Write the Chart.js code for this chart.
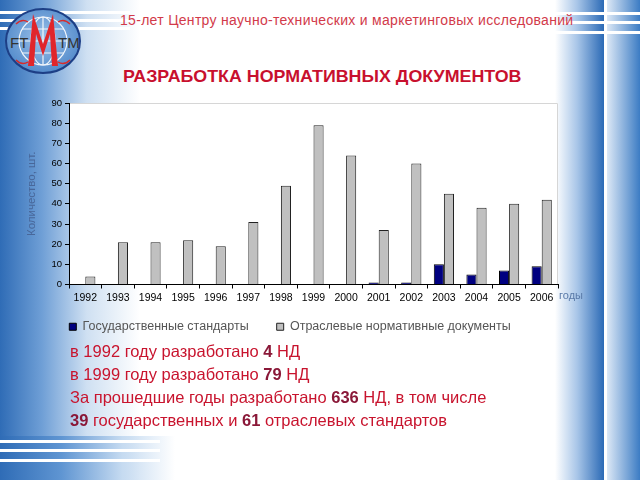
<!DOCTYPE html>
<html>
<head>
<meta charset="utf-8">
<script src="https://cdn.jsdelivr.net/npm/chart.js@4.4.0/dist/chart.umd.min.js"></script>
<style>
  html, body { margin: 0; padding: 0; }
  body {
    width: 640px; height: 480px; overflow: hidden; position: relative;
    font-family: "Liberation Sans", Arial, sans-serif;
    background: #fff;
  }
  .bg-left {
    position: absolute; left: 0; top: 0; width: 140px; height: 480px;
    background: linear-gradient(to right, #2f6cb6 0%, #6f9fd6 30%, #cfe0f2 62%, rgba(255,255,255,0) 100%);
  }
  .bg-bottom {
    position: absolute; left: 0; top: 436px; width: 175px; height: 44px;
    background: linear-gradient(to right, #2f6cb6 0%, #5f95d2 35%, #c6dbf1 70%, rgba(255,255,255,0) 100%);
  }
  .bg-right1 {
    position: absolute; left: 555px; top: 0; width: 49px; height: 480px;
    background: linear-gradient(to right, rgba(255,255,255,0) 0%, #a9c6e8 45%, #2b6ab6 100%);
  }
  .bg-right2 {
    position: absolute; left: 607px; top: 0; width: 33px; height: 480px;
    background: linear-gradient(to right, #dce8f6 0%, #3c7cc4 100%);
  }
  .stripe { position: absolute; height: 3px; background: #fff; }
  .logo { position: absolute; left: 4px; top: 4px; }
  .header {
    position: absolute; left: 120px; top: 12px; font-size: 14px; color: #d23a4a;
    letter-spacing: 0.3px; white-space: nowrap;
  }
  .title {
    position: absolute; left: 123px; top: 67px; font-size: 16.5px; font-weight: bold; color: #c8102e;
    white-space: nowrap; transform-origin: left top; transform: scaleX(1.08);
  }
  #wrap { position: absolute; left: 0; top: 90px; width: 590px; height: 272px; }
  .notes { position: absolute; left: 70px; top: 340px; color: #c8142e; font-size: 16.5px; line-height: 23px; white-space: nowrap; }
  .notes b { color: #8a1838; }
</style>
</head>
<body>
<div class="bg-left"></div>
<div class="bg-bottom"></div>
<div class="bg-right1"></div>
<div class="bg-right2"></div>
<div class="stripe" style="left:0;top:11px;width:130px"></div>
<div class="stripe" style="left:0;top:19px;width:130px"></div>
<div class="stripe" style="left:0;top:27px;width:130px"></div>
<div class="stripe" style="left:540px;top:12px;width:100px"></div>
<div class="stripe" style="left:540px;top:21px;width:100px"></div>
<div class="stripe" style="left:540px;top:31px;width:100px"></div>
<div class="stripe" style="left:0;top:440px;width:160px"></div>
<div class="stripe" style="left:0;top:449px;width:160px"></div>
<div class="stripe" style="left:0;top:459px;width:160px"></div>

<svg class="logo" width="80" height="72" viewBox="0 0 80 72">
  <defs>
    <radialGradient id="lg" cx="0.5" cy="0.45" r="0.6">
      <stop offset="0" stop-color="#9cc2ea"/>
      <stop offset="1" stop-color="#4d86c8"/>
    </radialGradient>
  </defs>
  <ellipse cx="39" cy="37" rx="37" ry="32" fill="url(#lg)" stroke="#1d3f86" stroke-width="2"/>
  <g stroke="#fff" stroke-width="1.2" fill="none" opacity="0.9">
    <circle cx="39" cy="37" r="24"/>
    <ellipse cx="39" cy="37" rx="12" ry="24"/>
    <line x1="15" y1="37" x2="63" y2="37"/>
    <line x1="18" y1="25" x2="60" y2="25"/>
    <line x1="18" y1="49" x2="60" y2="49"/>
    <line x1="39" y1="13" x2="39" y2="61"/>
  </g>
  <text x="6" y="44" font-size="15" fill="#333" font-family="Liberation Sans">FT</text>
  <text x="54" y="44" font-size="15" fill="#333" font-family="Liberation Sans">TM</text>
  <path d="M24 62 L29 10 L39 40 L49 10 L54 62 L48 62 L46 30 L39 52 L32 30 L30 62 Z" fill="#e0262b"/>
  <path d="M12 20 q6 -6 12 -2 M66 20 q-6 -6 -12 -2 M12 56 q6 6 12 2 M66 56 q-6 6 -12 2" stroke="#d82b2b" stroke-width="1.5" fill="none"/>
</svg>

<div class="header">15-лет Центру научно-технических и маркетинговых исследований</div>
<div class="title">РАЗРАБОТКА НОРМАТИВНЫХ ДОКУМЕНТОВ</div>

<div id="wrap"><canvas id="chart"></canvas></div>

<div class="notes">
  <div>в 1992 году разработано <b>4</b> НД</div>
  <div>в 1999 году разработано <b>79</b> НД</div>
  <div>За прошедшие годы разработано <b>636</b> НД, в том числе</div>
  <div><b>39</b> государственных и <b>61</b> отраслевых стандартов</div>
</div>

<script>
// данные
const years = ["1992", "1993", "1994", "1995", "1996", "1997", "1998", "1999", "2000", "2001", "2002", "2003", "2004", "2005", "2006"];
const gosStandarty = [null, null, null, null, null, null, null, null, null, 1, 1, 10, 5, 7, 9];
const otraslevye = [4, 21, 21, 22, 19, 31, 49, 79, 64, 27, 60, 45, 38, 40, 42];
const yTicks = [0, 10, 20, 30, 40, 50, 60, 70, 80, 90];

const FONT = "'Liberation Sans', Arial";
const LEGEND_SHIFT = 19; // легенда ближе к оси, но с широким шагом между пунктами

const plotBox = {
    id: "plotBox",
    afterLayout(c) {
        if (c.legend) {
            c.legend.top -= LEGEND_SHIFT;
            c.legend.bottom -= LEGEND_SHIFT;
        }
    },
    beforeDraw(c) {
        const a = c.chartArea, x = c.ctx;
        x.save();
        x.fillStyle = "#fff";
        x.fillRect(a.left, a.top, a.right - a.left, a.bottom - a.top);
        x.strokeStyle = "#d6d6d6";
        x.lineWidth = 1;
        x.beginPath();
        x.moveTo(a.left, a.top + 0.5);
        x.lineTo(a.right - 0.5, a.top + 0.5);
        x.lineTo(a.right - 0.5, a.bottom);
        x.stroke();
        x.restore();
    },
    afterDraw(c) {
        // подпись "годы" справа от оси X
        const a = c.chartArea, x = c.ctx;
        x.save();
        x.fillStyle = "#5a7aa8";
        x.font = "11px " + FONT;
        x.textBaseline = "middle";
        x.fillText("годы", a.right + 1, a.bottom + 11);
        x.restore();
    },
};

new Chart(document.getElementById("chart"), {
    type: "bar",
    data: {
        labels: years,
        datasets: [
            { label: "Государственные стандарты", data: gosStandarty, backgroundColor: "#000080", borderColor: "#000", borderWidth: 1 },
            { label: "Отраслевые нормативные документы", data: otraslevye, backgroundColor: "#c0c0c0", borderColor: "#222", borderWidth: 1 },
        ],
    },
    options: {
        responsive: true,
        maintainAspectRatio: false,
        animation: false,
        categoryPercentage: 0.62,
        barPercentage: 1,
        layout: { padding: { top: 13, right: 32, left: 22, bottom: 0 } },
        plugins: {
            tooltip: { enabled: false },
            legend: {
                position: "bottom",
                labels: { color: "#555", font: { family: FONT, size: 12.5 }, boxWidth: 7, boxHeight: 7, padding: 28 },
            },
        },
        scales: {
            x: {
                grid: { display: true, drawOnChartArea: false, drawTicks: true, tickLength: 4, color: "#000", offset: true },
                border: { color: "#000" },
                ticks: { color: "#000", font: { family: FONT, size: 10.5 }, maxRotation: 0, autoSkip: false, padding: 3 },
                afterFit: (s) => { s.height = 27; },
            },
            y: {
                min: 0,
                max: 90,
                afterBuildTicks: (s) => { s.ticks = yTicks.map((v) => ({ value: v })); },
                grid: { display: true, drawOnChartArea: false, drawTicks: true, tickLength: 4, color: "#000" },
                border: { color: "#000" },
                ticks: { color: "#000", font: { family: FONT, size: 9.5 }, padding: 3 },
                title: { display: true, text: "Количество, шт.", color: "#48679a", font: { family: FONT, size: 11.5 }, padding: { top: 3, bottom: 0 } },
                afterFit: (s) => { s.width = 47; },
            },
        },
    },
    plugins: [plotBox],
});
</script>
</body>
</html>
